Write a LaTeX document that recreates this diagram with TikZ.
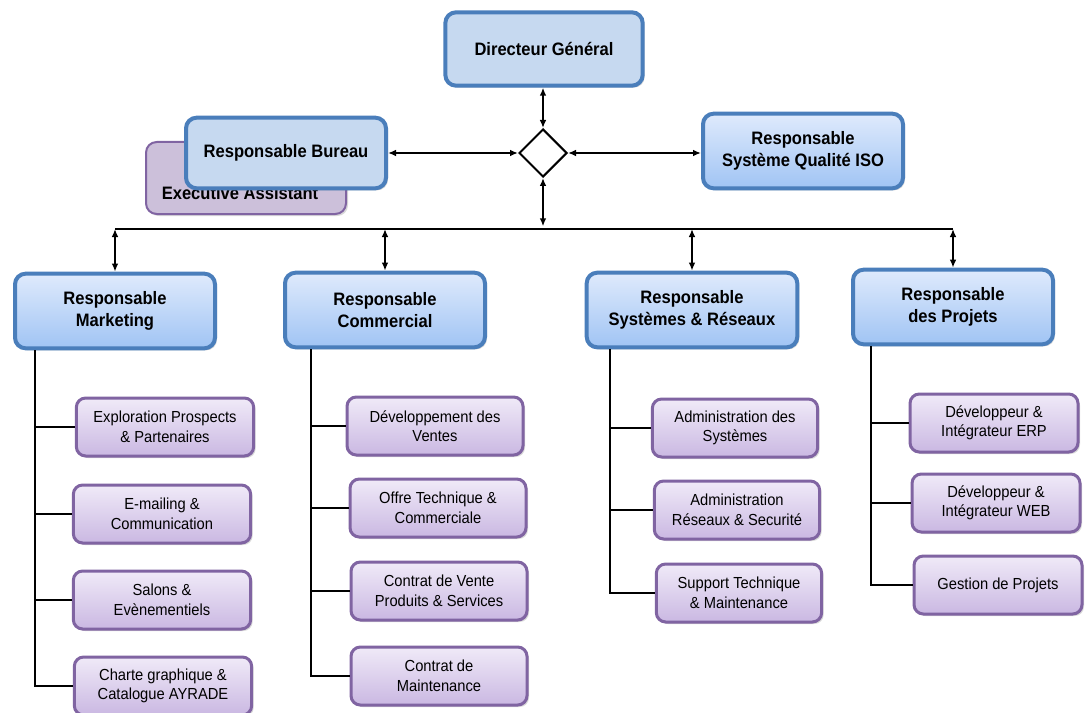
\documentclass[tikz,border=0pt]{standalone}
\usepackage{fontspec}
\setmainfont{Liberation Sans}[FakeStretch=0.92]
\usetikzlibrary{arrows.meta,shapes.geometric,shadows}

\definecolor{bleuBord}{RGB}{74,126,187}
\definecolor{bleuHaut}{RGB}{223,234,252}
\definecolor{bleuBas}{RGB}{160,196,244}
\definecolor{bleuPlein}{RGB}{198,217,240}
\definecolor{violBord}{RGB}{128,100,162}
\definecolor{violHaut}{RGB}{240,234,248}
\definecolor{violBas}{RGB}{202,184,226}
\definecolor{violPlein}{RGB}{204,192,218}

\tikzset{
  respo/.style={draw=bleuBord, line width=3pt, rounded corners=8pt,
    top color=bleuHaut, bottom color=bleuBas,
    minimum width=150pt, minimum height=56pt, align=center,
    font=\fontsize{13.5}{16.5}\selectfont\bfseries,
    drop shadow={opacity=0.3, shadow xshift=1.5pt, shadow yshift=-1.5pt}},
  chef/.style={respo, top color=bleuPlein, bottom color=bleuPlein},
  tache/.style={draw=violBord, line width=2.25pt, rounded corners=7pt,
    top color=violHaut, bottom color=violBas,
    minimum width=133pt, minimum height=43.5pt, align=center,
    font=\fontsize{12}{14.6}\selectfont,
    drop shadow={opacity=0.3, shadow xshift=1.5pt, shadow yshift=-1.5pt}},
  lien/.style={line width=1.5pt},
  fleche/.style={lien, {Latex[length=6pt,width=5pt]}-{Latex[length=6pt,width=5pt]}}
}

\begin{document}
\begin{tikzpicture}[x=0.75pt,y=0.75pt,yscale=-1,xscale=1]
\path[use as bounding box] (0,0) rectangle (1085,713);

%Direction
\node[chef, minimum width=148pt, minimum height=55pt] (dg) at (544,49) {Directeur Général};
\node[draw, diamond, line width=1.5pt, fill=white, minimum width=36pt, minimum height=36pt, inner sep=0pt] (losange) at (543,153) {};

%Executive Assistant (behind the bureau box)
\node[draw=violBord, line width=1.5pt, rounded corners=8pt, fill=violPlein, minimum width=150pt, minimum height=54pt,
  drop shadow={opacity=0.3, shadow xshift=1.5pt, shadow yshift=-1.5pt}] (exec) at (246,178) {};
\node[font=\fontsize{13.5}{16.5}\selectfont\bfseries] (execTxt) at (240,193) {Executive Assistant};
\node[chef, minimum height=53pt] (bureau) at (286,153) {Responsable Bureau};
\node[respo] (iso) at (803,151) {Responsable\\Système Qualité ISO};

%Responsables
\node[respo] (mkt) at (115,311) {Responsable\\Marketing};
\node[respo] (com) at (385,310) {Responsable\\Commercial};
\node[respo, minimum width=158pt] (sys) at (692,310) {Responsable\\Systèmes \& Réseaux};
\node[respo] (prj) at (953,307) {Responsable\\des Projets};

%Marketing
\node[tache] (mk1) at (165,427) {Exploration Prospects\\\& Partenaires};
\node[tache] (mk2) at (162,514) {E-mailing \&\\Communication};
\node[tache] (mk3) at (162,600) {Salons \&\\Evènementiels};
\node[tache] (mk4) at (163,686) {Charte graphique \&\\Catalogue AYRADE};

%Commercial
\node[tache, minimum width=132pt] (co1) at (435,426) {Développement des\\Ventes};
\node[tache, minimum width=132pt] (co2) at (438,508) {Offre Technique \&\\Commerciale};
\node[tache, minimum width=132pt] (co3) at (439,591) {Contrat de Vente\\Produits \& Services};
\node[tache, minimum width=132pt] (co4) at (439,676) {Contrat de\\Maintenance};

%Systemes et reseaux
\node[tache, minimum width=124pt] (sy1) at (735,428) {Administration des\\Systèmes};
\node[tache, minimum width=124pt] (sy2) at (737,510) {Administration\\Réseaux \& Securité};
\node[tache, minimum width=124pt] (sy3) at (739,593) {Support Technique\\\& Maintenance};

%Projets
\node[tache, minimum width=126pt] (pr1) at (994,423) {Développeur \&\\Intégrateur ERP};
\node[tache, minimum width=126pt] (pr2) at (996,503) {Développeur \&\\Intégrateur WEB};
\node[tache, minimum width=126pt] (pr3) at (998,585) {Gestion de Projets};

%Liens
\coordinate (bus) at (543,229);
\draw[fleche] (losange.north |- dg.south) -- (losange.north);
\draw[fleche] (losange.west) -- (bureau.east |- losange.west);
\draw[fleche] (losange.east) -- (iso.west |- losange.east);
\draw[fleche, shorten >=2pt] (losange.south) -- (bus);
\draw[lien] (mkt.north |- bus) -- (prj.north |- bus);
\foreach \r in {mkt,com,sys,prj}
  \draw[fleche] (\r.north |- bus) -- (\r.north);

\coordinate (mktTige) at (35,0);
\coordinate (comTige) at (311,0);
\coordinate (sysTige) at (610,0);
\coordinate (prjTige) at (871,0);
\draw[lien] (mkt.south -| mktTige) |- (mk4.west);
\draw[lien] (com.south -| comTige) |- (co4.west);
\draw[lien] (sys.south -| sysTige) |- (sy3.west);
\draw[lien] (prj.south -| prjTige) |- (pr3.west);
\foreach \t in {mk1,mk2,mk3}
  \draw[lien] (mktTige |- \t.west) -- (\t.west);
\foreach \t in {co1,co2,co3}
  \draw[lien] (comTige |- \t.west) -- (\t.west);
\foreach \t in {sy1,sy2}
  \draw[lien] (sysTige |- \t.west) -- (\t.west);
\foreach \t in {pr1,pr2}
  \draw[lien] (prjTige |- \t.west) -- (\t.west);

\end{tikzpicture}
\end{document}
